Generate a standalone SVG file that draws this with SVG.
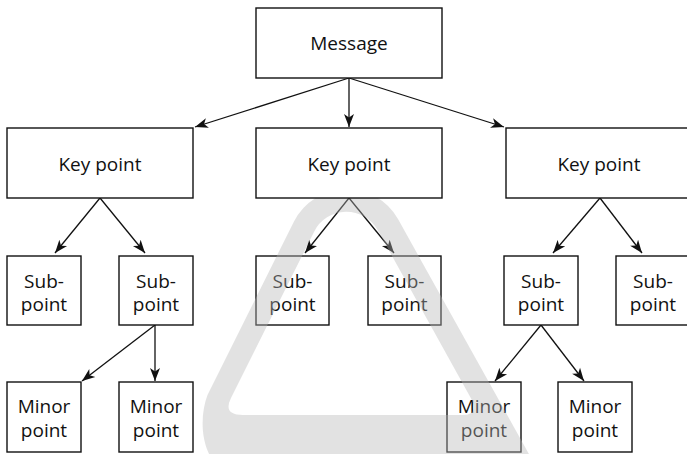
<svg xmlns="http://www.w3.org/2000/svg" width="687" height="454" viewBox="0 0 687 454">
  <defs>
    <style>
      .box { fill: #ffffff; stroke: #111; stroke-width: 1.4; }
      .lbl { font-family: "Open Sans", "Noto Sans", "Liberation Sans", sans-serif; font-size: 19px; fill: #111; text-anchor: middle; }
      .edge { stroke: #111; stroke-width: 1.3; fill: none; marker-end: url(#arrow); }
      .mark { fill: #b6b6b6; fill-opacity: 0.4; fill-rule: evenodd; }
    </style>
    <marker id="arrow" markerUnits="userSpaceOnUse" markerWidth="14" markerHeight="12" viewBox="0 0 14 12" refX="13" refY="6" orient="auto">
      <path d="M0,1 L13,6 L0,11 L3.5,6 Z" fill="#111"/>
    </marker>
  </defs>
  <rect width="687" height="454" fill="#ffffff"/>

  <!-- connectors -->
  <g id="connectors">
    <line class="edge" x1="349" y1="78" x2="195" y2="127"/>
    <line class="edge" x1="349" y1="78" x2="349" y2="127"/>
    <line class="edge" x1="349" y1="78" x2="504" y2="127"/>
    <line class="edge" x1="100" y1="198" x2="55" y2="253"/>
    <line class="edge" x1="100" y1="198" x2="145" y2="253"/>
    <line class="edge" x1="349" y1="198" x2="305" y2="253"/>
    <line class="edge" x1="349" y1="198" x2="394" y2="253"/>
    <line class="edge" x1="600" y1="198" x2="553" y2="253"/>
    <line class="edge" x1="600" y1="198" x2="642" y2="253"/>
    <line class="edge" x1="155" y1="325" x2="82" y2="381"/>
    <line class="edge" x1="155" y1="325" x2="155" y2="381"/>
    <line class="edge" x1="541" y1="325" x2="495" y2="381"/>
    <line class="edge" x1="541" y1="325" x2="584" y2="381"/>
  </g>

  <!-- sub-points -->
  <g id="sub1"><rect class="box" x="7" y="256" width="74" height="69"/><text class="lbl" x="44" y="288">Sub-</text><text class="lbl" x="44" y="311">point</text></g>
  <g id="sub2"><rect class="box" x="119" y="256" width="74" height="69"/><text class="lbl" x="156" y="288">Sub-</text><text class="lbl" x="156" y="311">point</text></g>
  <g id="sub3"><rect class="box" x="256" y="256" width="73" height="69"/><text class="lbl" x="292.5" y="288">Sub-</text><text class="lbl" x="292.5" y="311">point</text></g>
  <g id="sub4"><rect class="box" x="368" y="256" width="73" height="69"/><text class="lbl" x="404.5" y="288">Sub-</text><text class="lbl" x="404.5" y="311">point</text></g>
  <g id="sub5"><rect class="box" x="504" y="256" width="74" height="69"/><text class="lbl" x="541" y="288">Sub-</text><text class="lbl" x="541" y="311">point</text></g>
  <g id="sub6"><rect class="box" x="616" y="256" width="74" height="69"/><text class="lbl" x="653" y="288">Sub-</text><text class="lbl" x="653" y="311">point</text></g>

  <!-- minor points -->
  <g id="minor1"><rect class="box" x="7" y="382" width="74" height="70"/><text class="lbl" x="44" y="413">Minor</text><text class="lbl" x="44" y="436.5">point</text></g>
  <g id="minor2"><rect class="box" x="119" y="382" width="74" height="70"/><text class="lbl" x="156" y="413">Minor</text><text class="lbl" x="156" y="436.5">point</text></g>
  <g id="minor3"><rect class="box" x="447" y="382" width="74" height="70"/><text class="lbl" x="484" y="413">Minor</text><text class="lbl" x="484" y="436.5">point</text></g>
  <g id="minor4"><rect class="box" x="558" y="382" width="74" height="70"/><text class="lbl" x="595" y="413">Minor</text><text class="lbl" x="595" y="436.5">point</text></g>

  <!-- faint rounded-triangle backdrop mark -->
  <path class="mark" d="M294,221.4 A59,59 0 0 1 398,219.1 L543.4,480 L235,478 C200,465 198,420 207.5,395 Z
                        M314.1,231.7 L231,398 Q222.5,415 243,415 L462,415 Q480.3,415 470.8,398 L377.8,230.3 A36,36 0 0 0 314.1,231.7 Z"/>

  <!-- key points -->
  <g id="key1"><rect class="box" x="7" y="128" width="186" height="70"/><text class="lbl" x="100" y="170.5">Key point</text></g>
  <g id="key2"><rect class="box" x="256" y="128" width="186" height="70"/><text class="lbl" x="349" y="170.5">Key point</text></g>
  <g id="key3"><rect class="box" x="506" y="128" width="186" height="70"/><text class="lbl" x="599" y="170.5">Key point</text></g>

  <!-- root -->
  <g id="message"><rect class="box" x="256" y="8" width="186" height="70"/><text class="lbl" x="349" y="50">Message</text></g>
</svg>
